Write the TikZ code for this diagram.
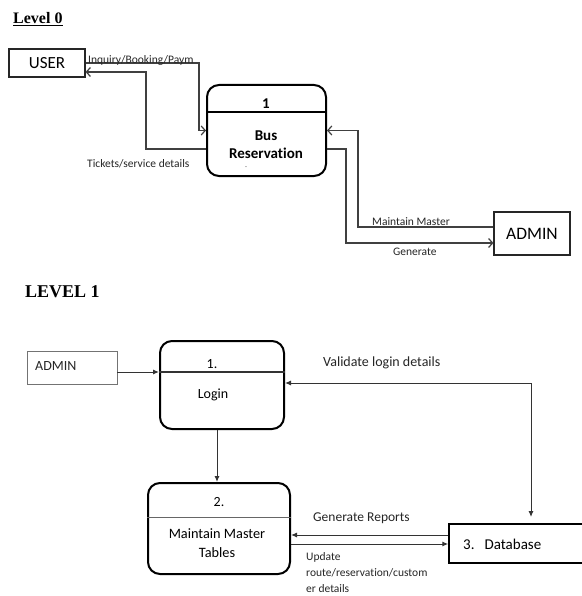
\documentclass[tikz,border=0pt]{standalone}
\usepackage{fontspec}
\setmainfont[Ligatures=NoCommon]{Carlito}
\newfontfamily\titlefont{Liberation Serif}
\usetikzlibrary{arrows.meta}
\begin{document}
\begin{tikzpicture}[x=1pt,y=-1pt,
  fs/.style={font=\fontsize{#1}{18}\selectfont},
  lbl/.style={font=\fontsize{11.5}{16}\selectfont, inner sep=0pt, anchor=west, text=black!85, align=left},
  lbltwo/.style={font=\fontsize{14}{16}\selectfont, inner sep=0pt, anchor=west, text=black!85},
  ext/.style={draw=black!85, line width=1.2pt, minimum width=#1, inner sep=0pt},
  proc/.style={draw=black, line width=2pt, rounded corners=12pt, inner sep=0pt},
  zero/.style={draw=black!75, line width=1.2pt, -{Straight Barb[length=4pt,width=9pt]}},
  one/.style={draw=black!80, line width=1pt, -{Latex[length=6pt,width=5pt]}},
  title/.style={inner sep=0pt, anchor=west, font=\titlefont\bfseries\fontsize{#1}{20}\selectfont}
]
\useasboundingbox (0,0) rectangle (581,596);
\fill[white] (0,0) rectangle (581,596);

% ---------- Level 0 ----------
\node[title=16] (t0) at (13,19) {\underline{Level 0}};

\node[ext=76pt, minimum height=28pt, font=\fontsize{17}{20}\selectfont] (user) at (47,63) {USER};
\node[proc, minimum width=119pt, minimum height=91pt] (bus) at (266.5,130.5) {};
\draw[line width=1.5pt] (bus.west |- 0,112) -- (bus.east |- 0,112);
\node[inner sep=0pt, font=\bfseries\fontsize{15}{18}\selectfont] (busnum) at (266,104) {1};
\node[inner sep=0pt, align=center, font=\bfseries\fontsize{15}{18}\selectfont] (busname) at (266,145) {Bus\\Reservation};
\node[inner sep=0pt, text=black!50, font=\fontsize{8}{8}\selectfont] (dash) at (246,168) {-};
\node[ext=76pt, minimum height=43pt, font=\fontsize{17.5}{20}\selectfont] (admin0) at (532,233.5) {ADMIN};

\coordinate (u1) at (199,63);
\draw[zero] (user.east |- u1) -- (u1) |- (bus.west);
\coordinate (r1) at (146,149);
\coordinate (r2) at (146,72);
\draw[zero] (bus.west |- r1) -- (r1) -- (r2) -- (user.east |- r2);
\coordinate (m1) at (358,227);
\draw[zero] (admin0.west |- m1) -- (m1) |- (bus.east);
\coordinate (g1) at (346,149);
\coordinate (g2) at (346,243);
\draw[zero] (bus.east |- g1) -- (g1) -- (g2) -- (admin0.west |- g2);

\node[lbl] (inq) at (88,60) {Inquiry/Booking/Paym};
\node[lbl] (tick) at (87,164) {Tickets/service details};
\node[lbl] (mm) at (372,222) {Maintain Master};
\node[lbl] (gen) at (393,252) {Generate};

% ---------- Level 1 ----------
\node[title=18] (t1) at (25,292) {LEVEL 1};

\node[draw=black!55, line width=0.8pt, minimum width=90pt, minimum height=33pt, inner sep=0pt] (admin1) at (72,367.5) {};
\node[lbltwo] (admintxt) at (35,366) {ADMIN};

\node[proc, minimum width=124pt, minimum height=88pt] (login) at (222,385) {};
\draw[line width=1.5pt, draw=black!80] (login.west |- 0,372) -- (login.east |- 0,372);
\node[inner sep=0pt, fs=14] (lnum) at (212,364) {1.};
\node[inner sep=0pt, fs=14] (ltxt) at (213,395) {Login};

\node[proc, minimum width=142pt, minimum height=91pt] (maint) at (219,528.5) {};
\draw[line width=0.8pt, draw=black!60] (maint.west |- 0,517) -- (maint.east |- 0,517);
\node[inner sep=0pt, fs=14] (mnum) at (219,502) {2.};
\node[inner sep=0pt, align=center, font=\fontsize{14.3}{19}\selectfont] (mtxt) at (217,543) {Maintain Master\\Tables};

\node[draw=black, line width=1.5pt, minimum width=135pt, minimum height=39pt, inner sep=0pt] (db) at (516.5,543.5) {};
\node[inner sep=0pt, anchor=west, fs=15] (dbtxt) at (463,544) {3.\hspace{10pt}Database};

\coordinate (a1) at (117,372);
\draw[one] (a1) -- (a1 -| login.west);
\draw[one] (login.south -| 217,0) -- (maint.north -| 217,0);
\coordinate (v1) at (531,383);
\coordinate (v2) at (531,517);
\draw[one, {Latex[length=6pt,width=5pt]}-{Latex[length=6pt,width=5pt]}] (login.east |- v1) -- (v1) -- (v2);
\coordinate (gr) at (449,535);
\draw[one] (db.west |- gr) -- (maint.east |- gr);
\coordinate (up) at (449,544);
\draw[one] (maint.east |- up) -- (db.west |- up);

\node[lbltwo] (val) at (323,363) {Validate login details};
\node[lbltwo, font=\fontsize{13.5}{16}\selectfont] (genr) at (313,518) {Generate Reports};
\node[lbl, anchor=north west] (upd) at (306,552) {Update\\route/reservation/custom\\er details};
\end{tikzpicture}
\end{document}
